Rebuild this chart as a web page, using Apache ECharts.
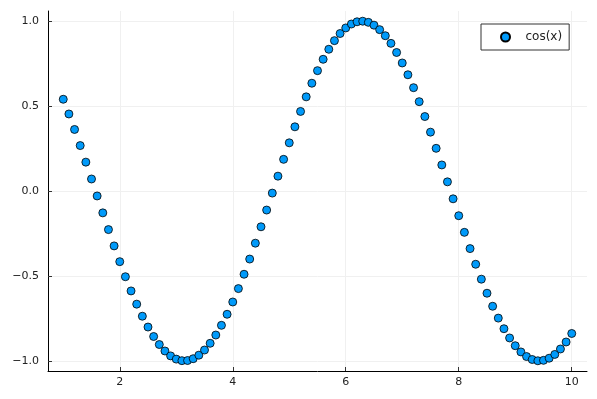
<!DOCTYPE html>
<html><head><meta charset="utf-8">
<script src="https://cdn.jsdelivr.net/npm/echarts@6/dist/echarts.min.js"></script>
<style>html,body{margin:0;padding:0;background:#fff}#c{width:597px;height:399px}</style>
</head><body><div id="c"></div>
<script>
const xs = [1.0,1.1,1.2,1.3,1.4,1.5,1.6,1.7,1.8,1.9,2.0,2.1,2.2,2.3,2.4,2.5,2.6,2.7,2.8,2.9,3.0,3.1,3.2,3.3,3.4,3.5,3.6,3.7,3.8,3.9,4.0,4.1,4.2,4.3,4.4,4.5,4.6,4.7,4.8,4.9,5.0,5.1,5.2,5.3,5.4,5.5,5.6,5.7,5.8,5.9,6.0,6.1,6.2,6.3,6.4,6.5,6.6,6.7,6.8,6.9,7.0,7.1,7.2,7.3,7.4,7.5,7.6,7.7,7.8,7.9,8.0,8.1,8.2,8.3,8.4,8.5,8.6,8.7,8.8,8.9,9.0,9.1,9.2,9.3,9.4,9.5,9.6,9.7,9.8,9.9,10.0];
const ys = [0.5403,0.4536,0.3624,0.2675,0.1700,0.0707,-0.0292,-0.1288,-0.2272,-0.3233,-0.4161,-0.5048,-0.5885,-0.6663,-0.7374,-0.8011,-0.8569,-0.9041,-0.9422,-0.9710,-0.9900,-0.9991,-0.9983,-0.9875,-0.9668,-0.9365,-0.8968,-0.8481,-0.7910,-0.7259,-0.6536,-0.5748,-0.4903,-0.4008,-0.3073,-0.2108,-0.1122,-0.0124,0.0875,0.1865,0.2837,0.3780,0.4685,0.5544,0.6347,0.7087,0.7756,0.8347,0.8855,0.9275,0.9602,0.9833,0.9965,0.9999,0.9932,0.9766,0.9502,0.9144,0.8694,0.8157,0.7539,0.6845,0.6084,0.5261,0.4385,0.3466,0.2513,0.1534,0.0540,-0.0460,-0.1455,-0.2435,-0.3392,-0.4314,-0.5193,-0.6020,-0.6787,-0.7486,-0.8111,-0.8654,-0.9111,-0.9477,-0.9748,-0.9922,-0.9998,-0.9972,-0.9847,-0.9624,-0.9304,-0.8892,-0.8391];
const xTicks = [2,4,6,8,10];
const yTicks = [-1.0,-0.5,0.0,0.5,1.0];
const seriesName = 'cos(x)';

const chart = echarts.init(document.getElementById('c'), null, {renderer:'canvas'});
const axisCommon = {
  axisLine:{show:true, onZero:false, lineStyle:{color:'#000', width:1}},
  axisTick:{show:true, inside:true, length:4, lineStyle:{color:'#333'}},
  splitLine:{show:true, lineStyle:{color:'#f0f0f0', width:1}},
  axisLabel:{color:'#222', fontSize:11, fontFamily:'DejaVu Sans'}
};
chart.setOption({
  animation:false,
  backgroundColor:'#fff',
  grid:{left:48, right:10, top:11, bottom:28, containLabel:false},
  xAxis:{type:'value', min:0.73, max:10.27,
    axisLine:axisCommon.axisLine,
    axisTick:Object.assign({}, axisCommon.axisTick, {customValues:xTicks}),
    splitLine:axisCommon.splitLine,
    axisLabel:Object.assign({}, axisCommon.axisLabel, {customValues:xTicks, margin:6, formatter:v=>String(v)})},
  yAxis:{type:'value', min:-1.06, max:1.06,
    axisLine:axisCommon.axisLine,
    axisTick:Object.assign({}, axisCommon.axisTick, {customValues:yTicks}),
    splitLine:axisCommon.splitLine,
    axisLabel:Object.assign({}, axisCommon.axisLabel, {customValues:yTicks, margin:9,
      formatter:v=>(v<0?'\u2212':'')+Math.abs(v).toFixed(1)})},
  legend:{show:true, left:481, top:24, orient:'vertical',
    backgroundColor:'#fff', borderColor:'#333', borderWidth:1, borderRadius:0,
    padding:[7,7,7,19], itemWidth:30, itemHeight:9, itemGap:0,
    textStyle:{fontSize:12, color:'#222', fontFamily:'DejaVu Sans'},
    data:[{name:seriesName, icon:'circle'}]},
  series:[{
    name:seriesName, type:'scatter',
    data:xs.map((x,i)=>[x, ys[i]]),
    symbol:'circle', symbolSize:8,
    itemStyle:{color:'#009AFA', borderColor:'#000', borderWidth:0.8, opacity:1}
  }]
});
</script></body></html>
